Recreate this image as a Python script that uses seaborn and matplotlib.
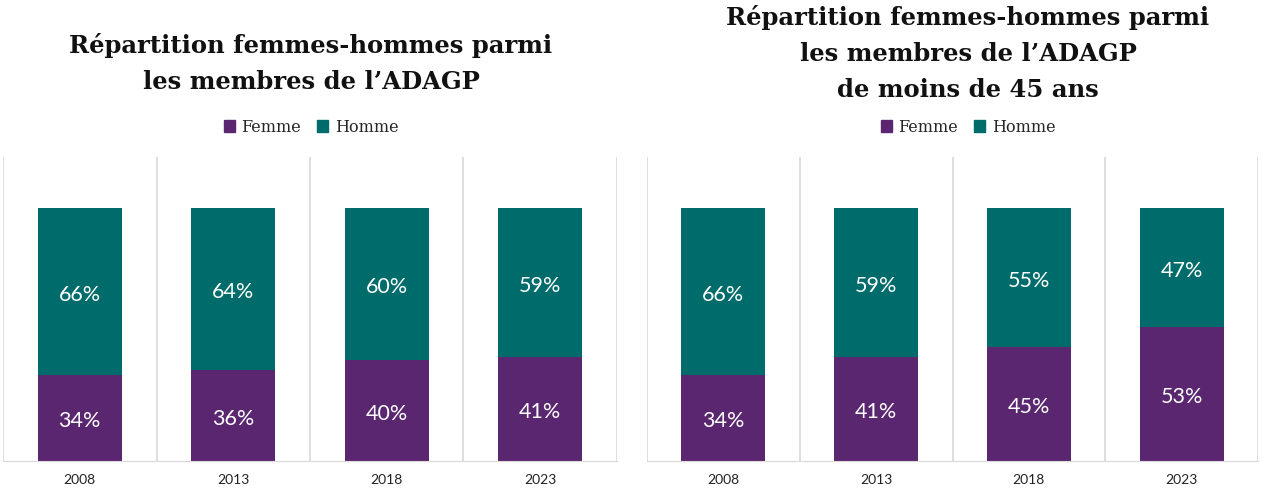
import pandas as pd
import numpy as np
import seaborn as sns
import matplotlib.pyplot as plt
from matplotlib.patches import Patch

# données
annees = ["2008", "2013", "2018", "2023"]
femme_tous = [0.34, 0.36, 0.40, 0.41]
homme_tous = [0.66, 0.64, 0.60, 0.59]
femme_45 = [0.34, 0.41, 0.45, 0.53]
homme_45 = [0.66, 0.59, 0.55, 0.47]

titres = ["Répartition femmes-hommes parmi\nles membres de l\u2019ADAGP",
          "Répartition femmes-hommes parmi\nles membres de l\u2019ADAGP\nde moins de 45 ans"]

violet = "#59266F"
vert = "#006B6B"
gris = "#D9D9D9"

sns.set_style("white")
plt.rcParams['font.family'] = ['DejaVu Serif']

fig = plt.figure(figsize=(12.65, 4.97), dpi=100)
ax1 = fig.add_axes([0.0024, 0.0724, 0.4853, 0.6117])
ax2 = fig.add_axes([0.5115, 0.0724, 0.4830, 0.6117])

# (axe, femme, homme, titre, haut du titre, centre du titre/légende en pixels)
panneaux = [(ax1, femme_tous, homme_tous, titres[0], 0.934, 311),
            (ax2, femme_45, homme_45, titres[1], 0.990, 968)]

for ax, femme, homme, titre, ytitre, xpix in panneaux:
    df = pd.DataFrame({"annee": annees, "Femme": femme, "Homme": homme})
    df["total"] = df["Femme"] + df["Homme"]

    # barre totale (homme) puis femme par-dessus
    sns.barplot(data=df, x="annee", y="total", color=vert, width=0.55,
                saturation=1, linewidth=0, ax=ax)
    sns.barplot(data=df, x="annee", y="Femme", color=violet, width=0.55,
                saturation=1, linewidth=0, ax=ax)

    for i, (f, h) in enumerate(zip(femme, homme)):
        ax.text(i, f / 2 - 0.013, f"{round(f * 100)}%", ha="center", va="center",
                color="white", fontsize=15.5, family="Lato")
        ax.text(i, f + h / 2 - 0.013, f"{round(h * 100)}%", ha="center", va="center",
                color="white", fontsize=15.5, family="Lato")

    ax.set_ylim(0, 1.2)
    ax.set_xlim(-0.5, 3.5)
    ax.set_yticks([])
    ax.set_xlabel("")
    ax.set_ylabel("")
    ax.set_xticks(range(4))
    ax.set_xticklabels(annees, fontsize=10, family="Lato", color="#222222")
    ax.tick_params(axis="x", length=0, pad=9)
    for s in ["top", "left", "right"]:
        ax.spines[s].set_visible(False)
    ax.spines["bottom"].set_color(gris)
    for xb in np.arange(-0.5, 4, 1):
        ax.axvline(xb, color=gris, lw=1.2, zorder=0)

    xc = xpix / 1265
    fig.text(xc, ytitre, titre, ha="center", va="top", fontsize=17.5,
             fontweight="bold", linespacing=1.62, color="#111111")

    poignees = [Patch(color=violet, label="Femme"), Patch(color=vert, label="Homme")]
    ax.legend(handles=poignees, loc="center", ncol=2, frameon=False,
              bbox_to_anchor=(xc, 1 - 127 / 497), bbox_transform=fig.transFigure,
              fontsize=11.5, handlelength=0.7, handleheight=0.7, handletextpad=0.4,
              columnspacing=1.0)

fig.savefig("out.png", dpi=100)
